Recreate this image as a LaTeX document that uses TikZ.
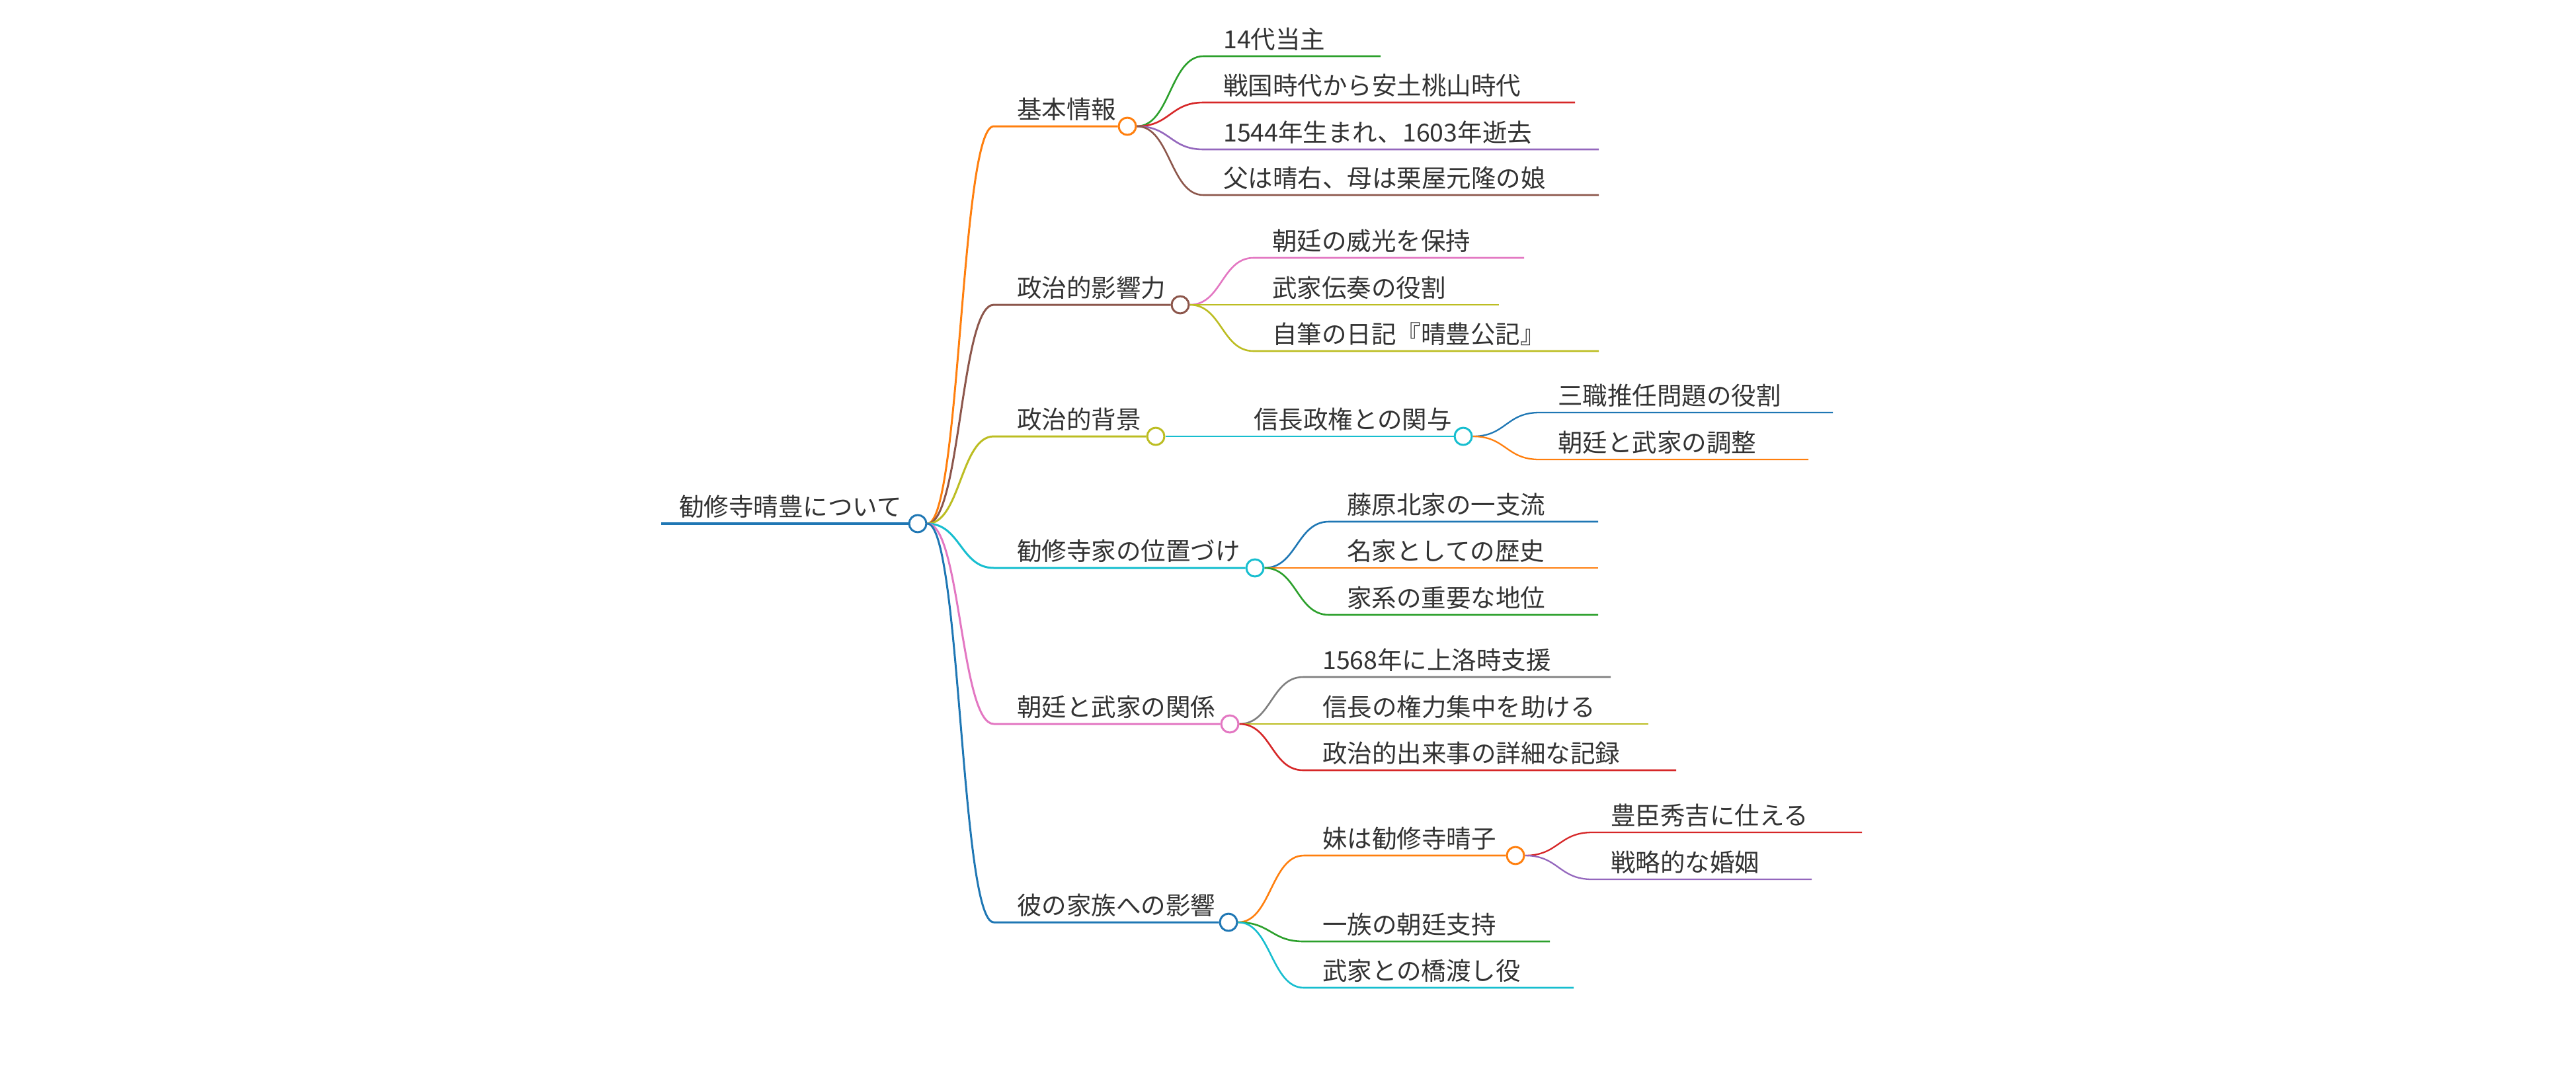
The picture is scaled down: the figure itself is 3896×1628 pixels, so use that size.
\documentclass[tikz,border=0pt]{standalone}
\usepackage{fontspec}
\setmainfont{Noto Sans CJK JP}
\usetikzlibrary{calc,backgrounds}
\definecolor{cblue}{HTML}{1F77B4}
\definecolor{corange}{HTML}{FF7F0E}
\definecolor{cgreen}{HTML}{2CA02C}
\definecolor{cred}{HTML}{D62728}
\definecolor{cpurple}{HTML}{9467BD}
\definecolor{cbrown}{HTML}{8C564B}
\definecolor{cpink}{HTML}{E377C2}
\definecolor{cgray}{HTML}{7F7F7F}
\definecolor{colive}{HTML}{BCBD22}
\definecolor{ccyan}{HTML}{17BECF}
\definecolor{ink}{HTML}{333333}
\tikzset{
	topic/.style={anchor=base west,inner sep=0pt,text=ink},
	knob/.style={circle,draw=#1,fill=white,line width=3pt,minimum size=26pt,inner sep=0pt},
	hlink/.style={to path={let \p1=(\tikztostart),\p2=(\tikztotarget) in .. controls ({(\x1+\x2)/2},\y1) and ({(\x1+\x2)/2},\y2) .. (\tikztotarget)}}
}
\begin{document}
\begin{tikzpicture}[x=1pt,y=-1pt,line join=round,line cap=round,font=\fontsize{37.5}{45}\selectfont]
	\useasboundingbox (0,0) rectangle (3896,1628);
	% root
	\node[topic] (tR) at (1027,780) {勧修寺晴豊について};
	\coordinate (sR) at (1000,792);
	\node[knob=cblue] (R) at (1388,792) {};
	% first level
	\node[topic] (tA) at (1538,179) {基本情報};
	\coordinate (sA) at (1503,191);
	\node[knob=corange] (A) at (1705,191) {};
	\node[topic] (tB) at (1538,449) {政治的影響力};
	\coordinate (sB) at (1503,461);
	\node[knob=cbrown] (B) at (1785,461) {};
	\node[topic] (tC) at (1538,648) {政治的背景};
	\coordinate (sC) at (1503,660);
	\node[knob=colive] (C) at (1748,660) {};
	\node[topic] (tD) at (1538,847) {勧修寺家の位置づけ};
	\coordinate (sD) at (1503,859);
	\node[knob=ccyan] (D) at (1898,859) {};
	\node[topic] (tE) at (1538,1083) {朝廷と武家の関係};
	\coordinate (sE) at (1503,1095);
	\node[knob=cpink] (E) at (1860,1095) {};
	\node[topic] (tF) at (1538,1383) {彼の家族への影響};
	\coordinate (sF) at (1503,1395);
	\node[knob=cblue] (F) at (1858,1395) {};
	% second level
	\node[topic] (tA1) at (1850,73) {14代当主};
	\coordinate (sA1) at (1820,85); \coordinate (eA1) at (2088,85);
	\node[topic] (tA2) at (1850,143) {戦国時代から安土桃山時代};
	\coordinate (sA2) at (1820,155); \coordinate (eA2) at (2382,155);
	\node[topic] (tA3) at (1850,214) {1544年生まれ、1603年逝去};
	\coordinate (sA3) at (1820,226); \coordinate (eA3) at (2418,226);
	\node[topic] (tA4) at (1850,283) {父は晴右、母は栗屋元隆の娘};
	\coordinate (sA4) at (1820,295); \coordinate (eA4) at (2418,295);
	\node[topic] (tB1) at (1924,378) {朝廷の威光を保持};
	\coordinate (sB1) at (1896,390); \coordinate (eB1) at (2305,390);
	\node[topic] (tB2) at (1924,449) {武家伝奏の役割};
	\coordinate (sB2) at (1896,461); \coordinate (eB2) at (2267,461);
	\node[topic] (tB3) at (1924,519) {自筆の日記『晴豊公記』};
	\coordinate (sB3) at (1896,531); \coordinate (eB3) at (2418,531);
	\node[topic] (tC1) at (1896,648) {信長政権との関与};
	\coordinate (sC1) at (1866,660);
	\node[knob=ccyan] (C1) at (2213,660) {};
	\node[topic] (tD1) at (2037,777) {藤原北家の一支流};
	\coordinate (sD1) at (2010,789); \coordinate (eD1) at (2417,789);
	\node[topic] (tD2) at (2037,847) {名家としての歴史};
	\coordinate (sD2) at (2010,859); \coordinate (eD2) at (2417,859);
	\node[topic] (tD3) at (2037,918) {家系の重要な地位};
	\coordinate (sD3) at (2010,930); \coordinate (eD3) at (2417,930);
	\node[topic] (tE1) at (2000,1012) {1568年に上洛時支援};
	\coordinate (sE1) at (1971,1024); \coordinate (eE1) at (2436,1024);
	\node[topic] (tE2) at (2000,1083) {信長の権力集中を助ける};
	\coordinate (sE2) at (1971,1095); \coordinate (eE2) at (2493,1095);
	\node[topic] (tE3) at (2000,1153) {政治的出来事の詳細な記録};
	\coordinate (sE3) at (1971,1165); \coordinate (eE3) at (2535,1165);
	\node[topic] (tF1) at (2000,1282) {妹は勧修寺晴子};
	\coordinate (sF1) at (1972,1294);
	\node[knob=corange] (F1) at (2292,1294) {};
	\node[topic] (tF2) at (2000,1412) {一族の朝廷支持};
	\coordinate (sF2) at (1972,1424); \coordinate (eF2) at (2344,1424);
	\node[topic] (tF3) at (2000,1482) {武家との橋渡し役};
	\coordinate (sF3) at (1972,1494); \coordinate (eF3) at (2380,1494);
	% third level
	\node[topic] (tC11) at (2356,612) {三職推任問題の役割};
	\coordinate (sC11) at (2328,624); \coordinate (eC11) at (2772,624);
	\node[topic] (tC12) at (2356,683) {朝廷と武家の調整};
	\coordinate (sC12) at (2328,695); \coordinate (eC12) at (2735,695);
	\node[topic] (tF11) at (2436,1247) {豊臣秀吉に仕える};
	\coordinate (sF11) at (2408,1259); \coordinate (eF11) at (2816,1259);
	\node[topic] (tF12) at (2436,1318) {戦略的な婚姻};
	\coordinate (sF12) at (2408,1330); \coordinate (eF12) at (2740,1330);
	% lines and links
	\begin{scope}[on background layer]
	\draw[cblue,line width=4pt] (sR)--(R);
	\draw[corange,line width=3pt] (R.east) to[hlink] (sA)--(A);
	\draw[cbrown,line width=3pt] (R.east) to[hlink] (sB)--(B);
	\draw[colive,line width=3pt] (R.east) to[hlink] (sC)--(C);
	\draw[ccyan,line width=3pt] (R.east) to[hlink] (sD)--(D);
	\draw[cpink,line width=3pt] (R.east) to[hlink] (sE)--(E);
	\draw[cblue,line width=3pt] (R.east) to[hlink] (sF)--(F);
	\draw[cgreen,line width=2.6pt] (A.east) to[hlink] (sA1)--(eA1);
	\draw[cred,line width=2.6pt] (A.east) to[hlink] (sA2)--(eA2);
	\draw[cpurple,line width=2.6pt] (A.east) to[hlink] (sA3)--(eA3);
	\draw[cbrown,line width=2.6pt] (A.east) to[hlink] (sA4)--(eA4);
	\draw[cpink,line width=2.6pt] (B.east) to[hlink] (sB1)--(eB1);
	\draw[colive,line width=2.6pt] (B.east) to[hlink] (sB2)--(eB2);
	\draw[colive,line width=2.6pt] (B.east) to[hlink] (sB3)--(eB3);
	\draw[ccyan,line width=2.6pt] (C.east) to[hlink] (sC1)--(C1);
	\draw[cblue,line width=2.6pt] (D.east) to[hlink] (sD1)--(eD1);
	\draw[corange,line width=2.6pt] (D.east) to[hlink] (sD2)--(eD2);
	\draw[cgreen,line width=2.6pt] (D.east) to[hlink] (sD3)--(eD3);
	\draw[cgray,line width=2.6pt] (E.east) to[hlink] (sE1)--(eE1);
	\draw[colive,line width=2.6pt] (E.east) to[hlink] (sE2)--(eE2);
	\draw[cred,line width=2.6pt] (E.east) to[hlink] (sE3)--(eE3);
	\draw[corange,line width=2.6pt] (F.east) to[hlink] (sF1)--(F1);
	\draw[cgreen,line width=2.6pt] (F.east) to[hlink] (sF2)--(eF2);
	\draw[ccyan,line width=2.6pt] (F.east) to[hlink] (sF3)--(eF3);
	\draw[cblue,line width=2.3pt] (C1.east) to[hlink] (sC11)--(eC11);
	\draw[corange,line width=2.3pt] (C1.east) to[hlink] (sC12)--(eC12);
	\draw[cred,line width=2.3pt] (F1.east) to[hlink] (sF11)--(eF11);
	\draw[cpurple,line width=2.3pt] (F1.east) to[hlink] (sF12)--(eF12);
	\end{scope}
\end{tikzpicture}
\end{document}
